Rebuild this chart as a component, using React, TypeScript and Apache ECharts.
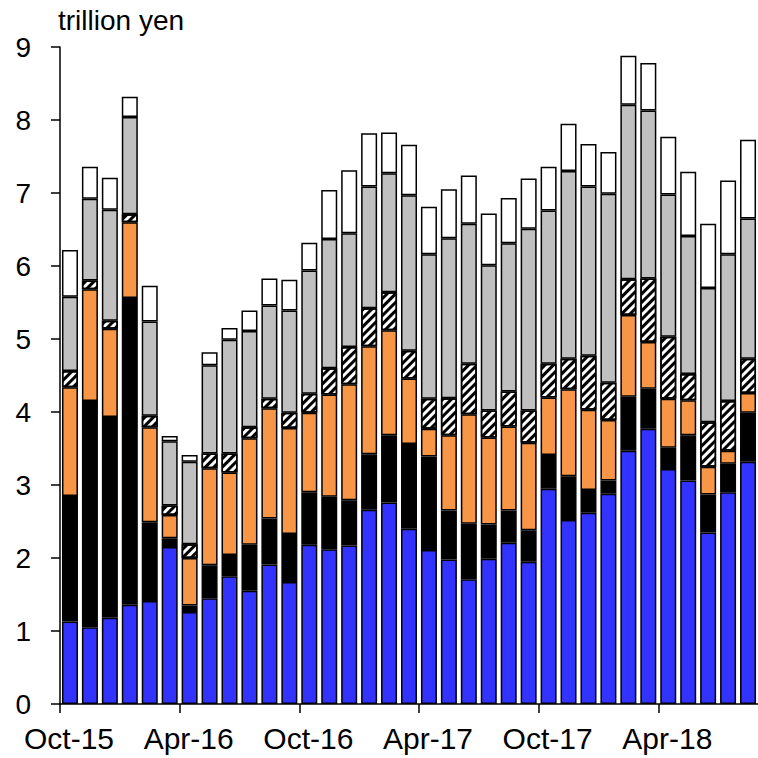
import React, { useEffect, useRef } from "react";
import * as echarts from "echarts";

const months = [
  "Oct-15","Nov-15","Dec-15","Jan-16","Feb-16","Mar-16","Apr-16","May-16","Jun-16","Jul-16","Aug-16","Sep-16",
  "Oct-16","Nov-16","Dec-16","Jan-17","Feb-17","Mar-17","Apr-17","May-17","Jun-17","Jul-17","Aug-17","Sep-17",
  "Oct-17","Nov-17","Dec-17","Jan-18","Feb-18","Mar-18","Apr-18","May-18","Jun-18","Jul-18","Aug-18",
];
const tickLabels = ["Oct-15", "Apr-16", "Oct-16", "Apr-17", "Oct-17", "Apr-18"];
const yTicks = [0, 1, 2, 3, 4, 5, 6, 7, 8, 9];

const blueVals = [1.13,1.05,1.18,1.36,1.41,2.15,1.26,1.45,1.75,1.55,1.91,1.67,2.18,2.12,2.17,2.66,2.76,2.40,2.11,1.98,1.71,1.99,2.21,1.95,2.95,2.52,2.62,2.88,3.47,3.77,3.22,3.06,2.35,2.90,3.32];
const blackVals = [1.72,3.10,2.75,4.20,1.08,0.12,0.09,0.45,0.29,0.63,0.63,0.66,0.72,0.72,0.62,0.76,0.92,1.16,1.28,0.67,0.76,0.47,0.44,0.43,0.46,0.60,0.31,0.18,0.74,0.55,0.29,0.62,0.52,0.39,0.67];
const orangeVals = [1.49,1.53,1.21,1.04,1.30,0.32,0.65,1.33,1.13,1.46,1.51,1.45,1.09,1.40,1.59,1.48,1.44,0.90,0.38,1.03,1.50,1.19,1.15,1.20,0.79,1.19,1.10,0.83,1.12,0.64,0.67,0.48,0.38,0.18,0.27];
const hatchedVals = [0.22,0.12,0.11,0.11,0.16,0.13,0.19,0.20,0.26,0.15,0.13,0.21,0.26,0.36,0.51,0.52,0.52,0.38,0.41,0.51,0.69,0.37,0.48,0.44,0.46,0.42,0.74,0.51,0.49,0.87,0.85,0.36,0.61,0.68,0.47];
const grayVals = [1.02,1.12,1.52,1.33,1.29,0.88,1.13,1.21,1.56,1.32,1.28,1.40,1.69,1.77,1.56,1.67,1.63,2.13,1.98,2.19,1.92,1.99,2.03,2.49,2.10,2.57,2.32,2.59,2.39,2.30,1.95,1.89,1.84,2.01,1.92];
const whiteVals = [0.64,0.44,0.44,0.28,0.49,0.07,0.09,0.18,0.16,0.28,0.37,0.42,0.38,0.67,0.86,0.73,0.56,0.69,0.65,0.67,0.66,0.71,0.62,0.69,0.60,0.65,0.58,0.57,0.67,0.65,0.79,0.88,0.88,1.01,1.08];

const FONT = "'Liberation Sans', Arial, sans-serif";

export default function App() {
  const ref = useRef<HTMLDivElement>(null);
  useEffect(() => {
    if (!ref.current) return;
    const chart = echarts.init(ref.current, undefined, { renderer: "svg" });
    const mk = (name: string, data: number[], color: string, extra: any = {}) => ({
      name,
      type: "bar",
      stack: "total",
      xAxisIndex: 0,
      yAxisIndex: 0,
      barWidth: 16,
      data,
      itemStyle: { color, borderColor: "#000", borderWidth: 1.5, ...extra },
      emphasis: { disabled: true },
    });
    chart.setOption({
      animation: false,
      backgroundColor: "#fff",
      textStyle: { fontFamily: FONT },
      grid: { left: 60, top: 47, width: 703, height: 657, containLabel: false },
      xAxis: [
        {
          type: "category",
          data: months,
          boundaryGap: true,
          axisLine: { show: true, lineStyle: { color: "#000", width: 1.5 } },
          axisTick: { show: false },
          axisLabel: { show: false },
          splitLine: { show: false },
        },
        {
          type: "value",
          min: 0,
          max: 35,
          interval: 6,
          position: "bottom",
          axisLine: { show: false },
          axisTick: { show: true, length: 9, lineStyle: { color: "#000", width: 1.5 } },
          splitLine: { show: false },
          axisLabel: {
            show: true,
            margin: 19,
            fontSize: 30,
            color: "#000",
            fontFamily: FONT,
            showMaxLabel: false,
            padding: [0, 0, 0, 18],
            formatter: (v: number) => (v % 6 === 0 && tickLabels[v / 6] ? tickLabels[v / 6] : ""),
          },
        },
      ],
      yAxis: {
        type: "value",
        min: yTicks[0],
        max: yTicks[yTicks.length - 1],
        interval: 1,
        axisLine: { show: true, lineStyle: { color: "#000", width: 1.5 } },
        axisTick: { show: true, length: 9, lineStyle: { color: "#000", width: 1.5 } },
        splitLine: { show: false },
        axisLabel: { margin: 29, fontSize: 28, color: "#000", fontFamily: FONT },
      },
      graphic: [
        {
          type: "text",
          left: 58,
          top: 6,
          style: { text: "trillion yen", fontSize: 28, fill: "#000", fontFamily: FONT },
        },
      ],
      series: [
        mk("Blue", blueVals, "#3333FF"),
        mk("Black", blackVals, "#000000"),
        mk("Orange", orangeVals, "#F79646"),
        mk("Hatched", hatchedVals, "#FFFFFF", {
          decal: {
            symbol: "rect",
            symbolSize: 1,
            dashArrayX: [1, 0],
            dashArrayY: [3, 3],
            rotation: -Math.PI / 4,
            color: "#000",
          },
        }),
        mk("Gray", grayVals, "#C0C0C0"),
        mk("White", whiteVals, "#FFFFFF"),
      ],
    });
    return () => chart.dispose();
  }, []);
  return (
    <div
      ref={ref}
      style={{ position: "fixed", left: 0, top: 0, width: 758, height: 758, background: "#fff" }}
    />
  );
}
